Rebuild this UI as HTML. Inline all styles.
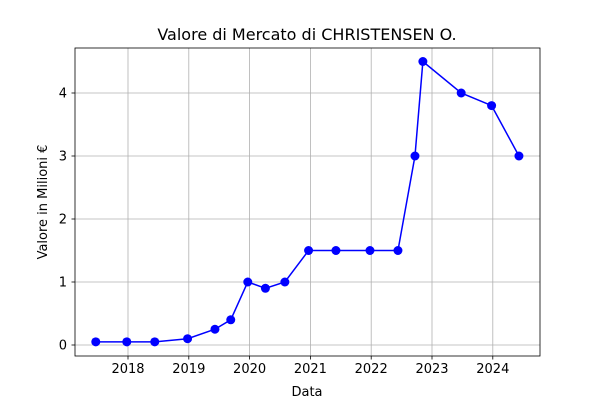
<!DOCTYPE html>
<html><head><meta charset="utf-8"><style>
body{margin:0;background:#fff;}
text{font-family:"DejaVu Sans","Liberation Sans",sans-serif;}
</style></head><body>
<svg id="chart" width="600" height="400" xmlns="http://www.w3.org/2000/svg">
<rect width="600" height="400" fill="#fff"/>
<text x="307" y="40" font-size="16" text-anchor="middle">Valore di Mercato di CHRISTENSEN O.</text>
<g id="grid"></g>
<g id="axes"></g>
<g id="series"></g>
<text x="307" y="396" font-size="13" text-anchor="middle">Data</text>
<text x="47" y="202" font-size="13" text-anchor="middle" transform="rotate(-90 47 202)">Valore in Milioni €</text>
</svg>
<script>
const dates=[2017.47,2017.98,2018.44,2018.98,2019.43,2019.69,2019.97,2020.26,2020.58,2020.97,2021.42,2021.98,2022.44,2022.72,2022.85,2023.48,2023.98,2024.43];
const values=[0.05,0.05,0.05,0.1,0.25,0.4,1.0,0.9,1.0,1.5,1.5,1.5,1.5,3.0,4.5,4.0,3.8,3.0];
const xTicks=[2018,2019,2020,2021,2022,2023,2024];
const yTicks=[0,1,2,3,4];
const L=75,R=540,T=48,B=356;
const xs=v=>128+(v-2018)*60.8;
const ys=v=>345-v*63;
const NS="http://www.w3.org/2000/svg";
function mk(tag,attrs,parent){const e=document.createElementNS(NS,tag);for(const k in attrs)e.setAttribute(k,attrs[k]);document.getElementById(parent).appendChild(e);return e;}
xTicks.forEach(t=>{const x=xs(t);
 const g=mk('line',{x1:x,x2:x,y1:T,y2:B,stroke:'#b0b0b0','stroke-width':0.8},'grid');
 
 
 const tk=mk('line',{x1:x,x2:x,y1:B,y2:B+3.5,stroke:'#000','stroke-width':0.8},'axes');
 
 
 const tx=mk('text',{x:x,y:B+17,'font-size':13,'text-anchor':'middle'},'axes');tx.textContent=t;
 
 
});
yTicks.forEach(t=>{const y=ys(t);
 const g=mk('line',{x1:L,x2:R,y1:y,y2:y,stroke:'#b0b0b0','stroke-width':0.8},'grid');
 
 
 const tk=mk('line',{x1:L-3.5,x2:L,y1:y,y2:y,stroke:'#000','stroke-width':0.8},'axes');
 
 
 const tx=mk('text',{x:L-8,y:y+4.5,'font-size':13,'text-anchor':'end'},'axes');tx.textContent=t;
 
 
});
const fr=mk('rect',{x:L,y:T,width:R-L,height:B-T,fill:'none',stroke:'#000','stroke-width':0.8},'axes');


const pl=mk('polyline',{points:dates.map((d,i)=>xs(d)+','+ys(values[i])).join(' '),fill:'none',stroke:'#0000ff','stroke-width':1.5},'series');


dates.forEach((d,i)=>{const c=mk('circle',{cx:xs(d),cy:ys(values[i]),r:4.5,fill:'#0000ff'},'series');
 
 
});
</script>
</body></html>
